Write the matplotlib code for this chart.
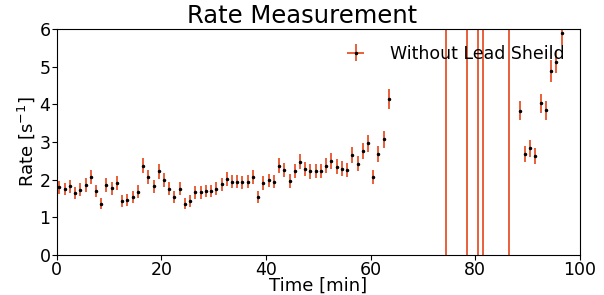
import numpy as np
import matplotlib
matplotlib.use("Agg")
import matplotlib.pyplot as plt

# bin centres [min] and measured rates [1/s]
time = np.array([0.5, 1.5, 2.5, 3.5, 4.5, 5.5, 6.5, 7.5, 8.5, 9.5,
                 10.5, 11.5, 12.5, 13.5, 14.5, 15.5, 16.5, 17.5, 18.5, 19.5,
                 20.5, 21.5, 22.5, 23.5, 24.5, 25.5, 26.5, 27.5, 28.5, 29.5,
                 30.5, 31.5, 32.5, 33.5, 34.5, 35.5, 36.5, 37.5, 38.5, 39.5,
                 40.5, 41.5, 42.5, 43.5, 44.5, 45.5, 46.5, 47.5, 48.5, 49.5,
                 50.5, 51.5, 52.5, 53.5, 54.5, 55.5, 56.5, 57.5, 58.5, 59.5,
                 60.5, 61.5, 62.5, 63.5,
                 88.5, 89.5, 90.5, 91.5, 92.5, 93.5, 94.5, 95.5, 96.5])
rate = np.array([1.80, 1.75, 1.82, 1.64, 1.73, 1.86, 2.06, 1.70, 1.36, 1.86,
                 1.77, 1.91, 1.44, 1.46, 1.55, 1.68, 2.37, 2.06, 1.82, 2.22,
                 1.99, 1.76, 1.55, 1.76, 1.36, 1.44, 1.66, 1.66, 1.70, 1.70,
                 1.76, 1.88, 2.01, 1.95, 1.95, 1.93, 1.95, 2.08, 1.55, 1.91,
                 1.98, 1.95, 2.37, 2.26, 1.97, 2.23, 2.48, 2.28, 2.22, 2.23,
                 2.23, 2.37, 2.50, 2.34, 2.29, 2.26, 2.66, 2.42, 2.77, 2.97,
                 2.06, 2.69, 3.08, 4.14,
                 3.83, 2.69, 2.83, 2.63, 4.03, 3.85, 4.89, 5.14, 5.90])

# short bins with huge uncertainty (their bars cross the whole plot)
spike_time = np.array([74.5, 78.5, 80.5, 81.5, 86.5])
spike_rate = np.array([60.0, 60.0, 60.0, 60.0, 60.0])
spike_err = np.array([80.0, 80.0, 80.0, 80.0, 80.0])

# Poisson errors for 60 s bins
counts = rate * 60
rate_err = np.sqrt(counts) / 60

t_all = np.concatenate([time, spike_time])
r_all = np.concatenate([rate, spike_rate])
e_all = np.concatenate([rate_err, spike_err])
order = np.argsort(t_all)

fig = plt.figure(figsize=(6.04, 2.95), dpi=100)
ax = fig.add_axes([0.094, 0.136, 0.866, 0.765])

ax.errorbar(t_all[order], r_all[order], yerr=e_all[order], xerr=0,
            fmt='.', color='black', markersize=3,
            ecolor='#E8532B', elinewidth=1.3,
            label='Without Lead Sheild')

ax.set_xlim(0, 100)
ax.set_ylim(0, 6)
ax.set_yticks(range(0, 7))
fig.suptitle('Rate Measurement', fontsize=17.5, x=0.5, y=0.905, va='bottom')
ax.set_xlabel('Time [min]', fontsize=13, labelpad=-2)
ax.set_ylabel('Rate [s$^{-1}$]', fontsize=13, labelpad=2)
ax.tick_params(labelsize=12.5, pad=1)
ax.legend(loc='upper right', frameon=False, fontsize=12.5,
          borderaxespad=0.5, handletextpad=1.2, handlelength=1.5)

fig.savefig('out.png', dpi=100)
